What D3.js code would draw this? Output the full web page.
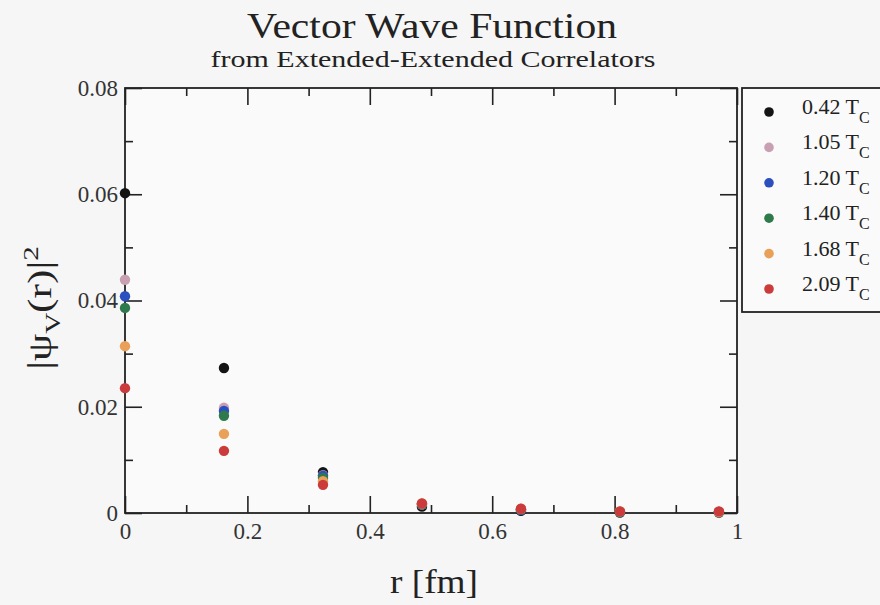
<!DOCTYPE html>
<html>
<head>
<meta charset="utf-8">
<script src="https://cdn.jsdelivr.net/npm/d3@7"></script>
<style>
  body { margin: 0; background: #f6f6f6; }
  svg { display: block; font-family: "Liberation Serif", "DejaVu Serif", serif; }
</style>
</head>
<body>
<div id="chart"></div>
<script>
// lattice separations (fm)
var rValues = [0, 0.1617, 0.3235, 0.4852, 0.647, 0.8087, 0.9705];

var seriesNames = ["0.42", "1.05", "1.20", "1.40", "1.68", "2.09"];
var seriesColors = ["#141414", "#c8a0b2", "#2c4fbf", "#2f7a4c", "#e9a058", "#cc3b3b"];

var psi042 = [0.0602, 0.0273, 0.0077, 0.0012, 0.0004, 0.0001, 0.0001];
var psi105 = [0.0439, 0.0198, 0.0071, 0.0016, 0.0006, 0.0002, 0.0002];
var psi120 = [0.0408, 0.0192, 0.0070, 0.0017, 0.0006, 0.0002, 0.0002];
var psi140 = [0.0386, 0.0183, 0.0066, 0.0017, 0.0007, 0.0002, 0.0002];
var psi168 = [0.0314, 0.0149, 0.0060, 0.0018, 0.0008, 0.0003, 0.0002];
var psi209 = [0.0235, 0.0117, 0.0053, 0.0018, 0.0008, 0.0003, 0.0003];
var seriesValues = [psi042, psi105, psi120, psi140, psi168, psi209];

var xTicks = [0, 0.2, 0.4, 0.6, 0.8, 1];
var yTicks = [0, 0.02, 0.04, 0.06, 0.08];

var width = 880, height = 605;
var margin = {left: 125, right: 143, top: 88, bottom: 92};
var pw = width - margin.left - margin.right,
    ph = height - margin.top - margin.bottom;

var svg = d3.select("#chart").append("svg")
  .attr("width", width)
  .attr("height", height);

svg.append("rect").attr("width", width).attr("height", height).attr("fill", "#f6f6f6");

var x = d3.scaleLinear().domain([0, 1]).range([0, pw]);
var y = d3.scaleLinear().domain([0, 0.08]).range([ph, 0]);

var g = svg.append("g").attr("transform", "translate(" + margin.left + "," + margin.top + ")");

g.append("rect").attr("width", pw).attr("height", ph).attr("fill", "#fafafa");

var fmt = function(d) { return d === 0 ? "0" : (d === 1 ? "1" : d3.format(".1f")(d)); };
var fmtY = function(d) { return d === 0 ? "0" : d3.format(".2f")(d); };

function styleAxis(sel) {
  sel.select(".domain").remove();
  sel.selectAll("line").attr("stroke", "#222").attr("stroke-width", 1.6);
  sel.selectAll("text").attr("fill", "#333").style("font-size", "23px")
    .style("font-family", "Liberation Serif, serif");
}

var xMinor = d3.range(0.1, 1, 0.2);
var yMinor = d3.range(0.01, 0.08, 0.02);

// bottom axis (ticks inward)
g.append("g").attr("transform", "translate(0," + ph + ")")
  .call(d3.axisBottom(x).tickValues(xTicks).tickFormat(fmt).tickSizeInner(-17).tickPadding(10))
  .call(styleAxis);
g.append("g").attr("transform", "translate(0," + ph + ")")
  .call(d3.axisBottom(x).tickValues(xMinor).tickFormat("").tickSizeInner(-8))
  .call(styleAxis);
// top axis
g.append("g")
  .call(d3.axisTop(x).tickValues(xTicks).tickFormat("").tickSizeInner(-17))
  .call(styleAxis);
g.append("g")
  .call(d3.axisTop(x).tickValues(xMinor).tickFormat("").tickSizeInner(-8))
  .call(styleAxis);
// left axis
g.append("g")
  .call(d3.axisLeft(y).tickValues(yTicks).tickFormat(fmtY).tickSizeInner(-17).tickPadding(7))
  .call(styleAxis);
g.append("g")
  .call(d3.axisLeft(y).tickValues(yMinor).tickFormat("").tickSizeInner(-8))
  .call(styleAxis);
// right axis
g.append("g").attr("transform", "translate(" + pw + ",0)")
  .call(d3.axisRight(y).tickValues(yTicks).tickFormat("").tickSizeInner(-17))
  .call(styleAxis);
g.append("g").attr("transform", "translate(" + pw + ",0)")
  .call(d3.axisRight(y).tickValues(yMinor).tickFormat("").tickSizeInner(-8))
  .call(styleAxis);

g.append("rect").attr("width", pw).attr("height", ph)
  .attr("fill", "none").attr("stroke", "#222").attr("stroke-width", 1.8);

// points
seriesValues.forEach(function(vals, i) {
  g.append("g").selectAll("circle")
    .data(vals)
    .enter().append("circle")
    .attr("cx", function(d, j) { return x(rValues[j]); })
    .attr("cy", function(d) { return y(d); })
    .attr("r", 5.2)
    .attr("fill", seriesColors[i]);
});

// titles
svg.append("text").attr("x", 432).attr("y", 38).attr("text-anchor", "middle")
  .attr("textLength", 370).attr("lengthAdjust", "spacingAndGlyphs")
  .style("font-size", "35px").attr("fill", "#222").text("Vector Wave Function");
svg.append("text").attr("x", 433).attr("y", 67).attr("text-anchor", "middle")
  .attr("textLength", 445).attr("lengthAdjust", "spacingAndGlyphs")
  .style("font-size", "24px").attr("fill", "#222").text("from Extended-Extended Correlators");

// x label
svg.append("text").attr("x", 434).attr("y", 593).attr("text-anchor", "middle")
  .attr("textLength", 88).attr("lengthAdjust", "spacingAndGlyphs")
  .style("font-size", "34px").attr("fill", "#222").text("r [fm]");

// y label
var yl = svg.append("text").attr("transform", "translate(51,308) rotate(-90) scale(1.32,1)")
  .attr("text-anchor", "middle").style("font-size", "33px").attr("fill", "#222");
yl.append("tspan").text("|\u03c8");
yl.append("tspan").attr("dy", 9).style("font-size", "22px").text("V");
yl.append("tspan").attr("dy", -9).text("(r)|");
yl.append("tspan").attr("dy", -13).style("font-size", "22px").text("2");

// legend
var lg = svg.append("g").attr("transform", "translate(742,88)");
lg.append("rect").attr("width", 150).attr("height", 224)
  .attr("fill", "#fafafa").attr("stroke", "#222").attr("stroke-width", 1.8);
var items = lg.selectAll("g.item").data(seriesNames).enter().append("g")
  .attr("transform", function(d, i) { return "translate(0," + (24 + i * 35.4) + ")"; });
items.append("circle").attr("cx", 27).attr("cy", 0).attr("r", 4.8)
  .attr("fill", function(d, i) { return seriesColors[i]; });
var lt = items.append("text").attr("x", 60).attr("y", 2)
  .style("font-size", "22px").attr("fill", "#222");
lt.append("tspan").text(function(d) { return d + " T"; });
lt.append("tspan").attr("dy", 9).style("font-size", "16px").text("C");
</script>
</body>
</html>
